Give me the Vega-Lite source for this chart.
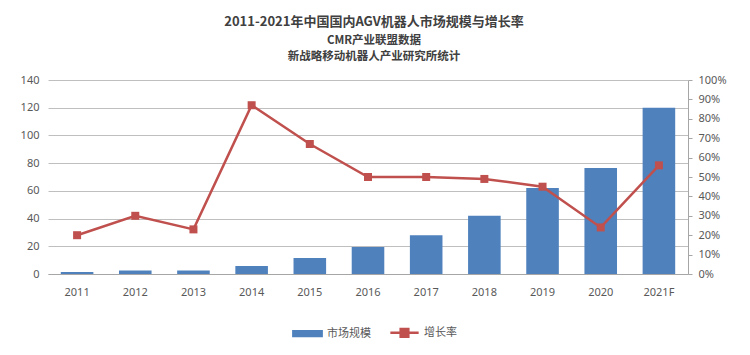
{
  "$schema": "https://vega.github.io/schema/vega-lite/v6.json",
  "width": 640,
  "height": 194,
  "autosize": {"type": "none"},
  "padding": {"left": 48, "top": 80, "right": 62, "bottom": 81},
  "background": "white",
  "title": {
    "text": "2011-2021年中国国内AGV机器人市场规模与增长率",
    "subtitle": ["CMR产业联盟数据", "新战略移动机器人产业研究所统计"],
    "font": "Noto Sans CJK SC",
    "fontSize": 13,
    "fontWeight": "bold",
    "color": "#404040",
    "subtitleFont": "Noto Sans CJK SC",
    "subtitleFontSize": 11.5,
    "subtitleFontWeight": "bold",
    "subtitleColor": "#404040",
    "subtitleLineHeight": 16,
    "subtitlePadding": 6,
    "anchor": "middle",
    "frame": "group",
    "dx": 6,
    "offset": 12
  },
  "data": {
    "values": [
      {"year": "2011", "size": 1.5, "rate": 0.20, "s1": "市场规模"},
      {"year": "2012", "size": 2.5, "rate": 0.30, "s1": "市场规模"},
      {"year": "2013", "size": 2.5, "rate": 0.23, "s1": "市场规模"},
      {"year": "2014", "size": 5.8, "rate": 0.87, "s1": "市场规模"},
      {"year": "2015", "size": 11.5, "rate": 0.67, "s1": "市场规模"},
      {"year": "2016", "size": 19.5, "rate": 0.50, "s1": "市场规模"},
      {"year": "2017", "size": 28, "rate": 0.50, "s1": "市场规模"},
      {"year": "2018", "size": 42, "rate": 0.49, "s1": "市场规模"},
      {"year": "2019", "size": 62, "rate": 0.45, "s1": "市场规模"},
      {"year": "2020", "size": 76.5, "rate": 0.24, "s1": "市场规模"},
      {"year": "2021F", "size": 120, "rate": 0.56, "s1": "市场规模"}
    ]
  },
  "encoding": {
    "x": {
      "field": "year",
      "type": "ordinal",
      "sort": null,
      "scale": {"paddingInner": 0.44, "paddingOuter": 0.22},
      "axis": {
        "title": null,
        "labelAngle": 0,
        "labelFont": "Noto Sans",
        "labelFontSize": 11,
        "labelColor": "#595959",
        "labelPadding": 12,
        "ticks": false,
        "domainColor": "#a6a6a6",
        "grid": false
      }
    }
  },
  "layer": [
    {
      "mark": {"type": "bar", "color": "#4F81BD"},
      "encoding": {
        "y": {
          "field": "size",
          "type": "quantitative",
          "scale": {"domain": [0, 140]},
          "axis": {
            "title": null,
            "values": [0, 20, 40, 60, 80, 100, 120, 140],
            "labelFont": "Noto Sans",
            "labelFontSize": 11,
            "labelColor": "#595959",
            "labelPadding": 9,
            "ticks": false,
            "domain": false,
            "gridColor": "#bfbfbf",
            "gridWidth": 1
          }
        },
        "color": {
          "field": "s1",
          "type": "nominal",
          "scale": {"domain": ["市场规模", "增长率"], "range": ["#4F81BD", "#C0504D"]},
          "legend": {
            "title": null,
            "orient": "none",
            "legendX": 244,
            "legendY": 237,
            "direction": "horizontal",
            "labelFont": "Noto Sans CJK SC",
            "labelFontSize": 11,
            "labelColor": "#595959",
            "symbolSize": 800,
            "columnPadding": 14,
            "labelOffset": 4,
            "encode": {
              "symbols": {
                "update": {
                  "shape": {"signal": "datum.value === '市场规模' ? 'M-1,-0.17H1V0.17H-1Z' : 'M-1,0H1M-0.27,-0.27H0.27V0.27H-0.27Z'"},
                  "fill": {"signal": "datum.value === '市场规模' ? '#4F81BD' : '#C0504D'"},
                  "stroke": {"signal": "datum.value === '市场规模' ? '#4F81BD' : '#C0504D'"},
                  "strokeWidth": {"value": 2.5},
                  "opacity": {"value": 1},
                  "fillOpacity": {"value": 1}
                }
              }
            }
          }
        }
      }
    },
    {
      "mark": {"type": "line", "color": "#C0504D", "strokeWidth": 2.5},
      "encoding": {
        "y": {
          "field": "rate",
          "type": "quantitative",
          "scale": {"domain": [0, 1]},
          "axis": {
            "title": null,
            "orient": "right",
            "format": ".0%",
            "values": [0, 0.1, 0.2, 0.3, 0.4, 0.5, 0.6, 0.7, 0.8, 0.9, 1],
            "labelFont": "Noto Sans",
            "labelFontSize": 11,
            "labelColor": "#595959",
            "labelPadding": 6,
            "tickSize": 4,
            "tickColor": "#a6a6a6",
            "domainColor": "#a6a6a6",
            "grid": false
          }
        }
      }
    },
    {
      "mark": {"type": "point", "shape": "square", "filled": true, "size": 64, "color": "#C0504D", "opacity": 1},
      "encoding": {
        "y": {"field": "rate", "type": "quantitative", "scale": {"domain": [0, 1]}, "axis": null}
      }
    }
  ],
  "resolve": {"scale": {"y": "independent"}},
  "config": {"view": {"stroke": null}}
}
